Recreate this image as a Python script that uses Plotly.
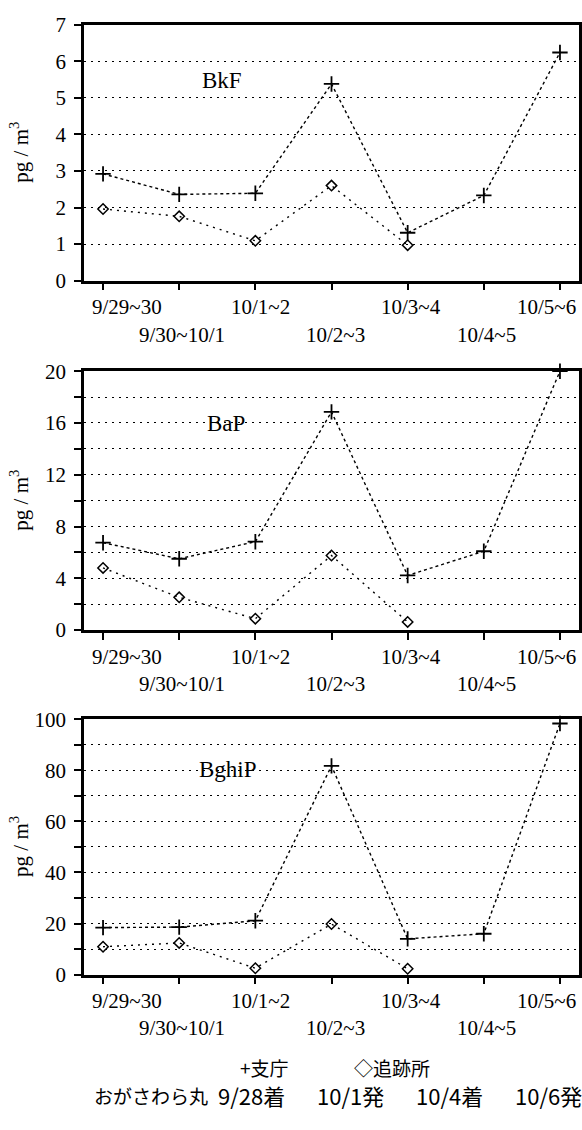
import plotly.graph_objects as go

# ---------------- data ----------------
categories = ["9/29~30", "9/30~10/1", "10/1~2", "10/2~3", "10/3~4", "10/4~5", "10/5~6"]

bkf_shicho = [2.92, 2.36, 2.39, 5.38, 1.31, 2.33, 6.24]
bkf_tsuiseki = [1.96, 1.76, 1.09, 2.60, 0.97, None, None]

bap_shicho = [6.75, 5.51, 6.83, 16.86, 4.22, 6.09, 20.0]
bap_tsuiseki = [4.80, 2.53, 0.88, 5.76, 0.63, None, None]

bghip_shicho = [18.4, 18.6, 21.1, 81.7, 14.0, 16.0, 98.3]
bghip_tsuiseki = [10.9, 12.4, 2.5, 19.8, 2.3, None, None]

panel_names = ["BkF", "BaP", "BghiP"]
y_ranges = [[0, 7], [0, 20], [0, 100]]
y_major_step = [1, 4, 20]
y_minor_step = [1, 2, 10]
legend_shicho = "+支庁"
legend_tsuiseki = "◇追跡所"
footer_items = ["おがさわら丸", "9/28着", "10/1発", "10/4着", "10/6発"]

# ---------------- layout helpers ----------------
W, H = 582, 1130
def px(x):
    return x / W
def py(y):
    return 1 - y / H

panels_px = [(13, 274.5), (367, 631.5), (722.5, 983.5)]  # (top, bottom)
x_left, x_right = 84, 579
label_xshift = [24, 3, 5, 4, 3, 3, -13]
label_names_pos = [(222, 70), (226, 420), (228, 774)]
name_gap_half = [0, 38, 62]
serif = "Liberation Serif"
cjk = "Noto Sans CJK JP"
grid_dash = "2px,5px"

fig = go.Figure()
series = [(bkf_shicho, bkf_tsuiseki), (bap_shicho, bap_tsuiseki), (bghip_shicho, bghip_tsuiseki)]
xs = list(range(len(categories)))

layout = dict(
    width=W, height=H,
    margin=dict(l=0, r=0, t=0, b=0),
    paper_bgcolor="white", plot_bgcolor="white",
    showlegend=False,
    font=dict(family=serif, size=20, color="black"),
)
annotations = []
shapes = []

for i, (s1, s2) in enumerate(series):
    n = "" if i == 0 else str(i + 1)
    xa, ya = "x" + n, "y" + n
    top, bot = panels_px[i]
    fig.add_trace(go.Scatter(
        x=xs, y=s1, xaxis=xa, yaxis=ya, mode="lines+markers", cliponaxis=False,
        line=dict(color="black", width=1.4, dash="dot"),
        marker=dict(symbol="cross-thin-open", size=11, color="black", line=dict(color="black", width=1.8)),
    ))
    fig.add_trace(go.Scatter(
        x=xs, y=s2, xaxis=xa, yaxis=ya, mode="lines+markers", cliponaxis=False,
        line=dict(color="black", width=1.4, dash="2px,5px"),
        marker=dict(symbol="diamond-open", size=8, color="black", line=dict(color="black", width=1.5)),
    ))
    layout["xaxis" + n] = dict(
        domain=[px(x_left), px(x_right)], anchor=ya, range=[-0.25, 6.25],
        tickvals=xs, showticklabels=False, ticks="outside", ticklen=7, tickwidth=1.5,
        tickcolor="black", showline=True, linecolor="black", linewidth=2.5, mirror=True,
        showgrid=False, zeroline=False, fixedrange=True,
    )
    layout["yaxis" + n] = dict(
        domain=[py(bot), py(top)], anchor=xa, range=y_ranges[i],
        tick0=0, dtick=y_major_step[i], ticks="outside", ticklen=7,
        tickwidth=1.5, tickcolor="black", tickfont=dict(family=serif, size=21, color="black"),
        showline=True, linecolor="black", linewidth=2.5, mirror=True,
        showgrid=True, gridcolor="black", gridwidth=1.4, griddash=grid_dash,
        minor=dict(tick0=0, dtick=y_minor_step[i], ticks="outside", ticklen=7, tickwidth=1.5,
                   tickcolor="black", showgrid=True, gridcolor="black", gridwidth=1.4,
                   griddash=grid_dash),
        zeroline=False, fixedrange=True, ticklabelstandoff=4,
    )
    # x category labels in two staggered rows
    for j, c in enumerate(categories):
        row_off = 27 if j % 2 == 0 else 55
        annotations.append(dict(
            x=j, xref=xa, y=py(bot + row_off), yref="paper", text=c, showarrow=False,
            xanchor="center", yanchor="middle", xshift=label_xshift[j],
            font=dict(family=serif, size=21, color="black"),
        ))
    # y-axis title
    annotations.append(dict(
        x=px(20), xref="paper", y=py((top + bot) / 2), yref="paper",
        xanchor="center", yanchor="middle",
        text="pg / m<sup>3</sup>", textangle=-90, showarrow=False,
        font=dict(family=serif, size=21, color="black"),
    ))
    # compound name
    nx, ny = label_names_pos[i]
    if name_gap_half[i] > 0:
        shapes.append(dict(
            type="rect", xref="paper", yref="paper", layer="between",
            x0=px(nx - name_gap_half[i]), x1=px(nx + name_gap_half[i]),
            y0=py(ny + 6), y1=py(ny - 6), fillcolor="white", line=dict(width=0),
        ))
    annotations.append(dict(
        x=px(nx), xref="paper", y=py(ny), yref="paper", text=panel_names[i],
        xanchor="center", yanchor="middle",
        showarrow=False, font=dict(family=serif, size=23, color="black"),
    ))

# legend text
annotations.append(dict(x=px(238), xref="paper", y=py(1078), yref="paper", text=legend_shicho,
                        xanchor="left", yanchor="middle", showarrow=False,
                        font=dict(family=cjk, size=19, color="black")))
annotations.append(dict(x=px(352), xref="paper", y=py(1078), yref="paper", text=legend_tsuiseki,
                        xanchor="left", yanchor="middle", showarrow=False,
                        font=dict(family=cjk, size=19, color="black")))
# footer
footer_x = [92, 216, 315, 414, 513]
footer_size = [19, 22, 22, 22, 22]
for fx, t, fs in zip(footer_x, footer_items, footer_size):
    annotations.append(dict(x=px(fx), xref="paper", y=py(1107), yref="paper", text=t,
                            xanchor="left", yanchor="middle", showarrow=False,
                            font=dict(family=cjk, size=fs, color="black")))

layout["annotations"] = annotations
layout["shapes"] = shapes
fig.update_layout(**layout)
fig.write_html(
    "out.html",
    config={"displayModeBar": False},
    post_script="document.body.style.margin='0';document.body.style.overflow='hidden';",
)
